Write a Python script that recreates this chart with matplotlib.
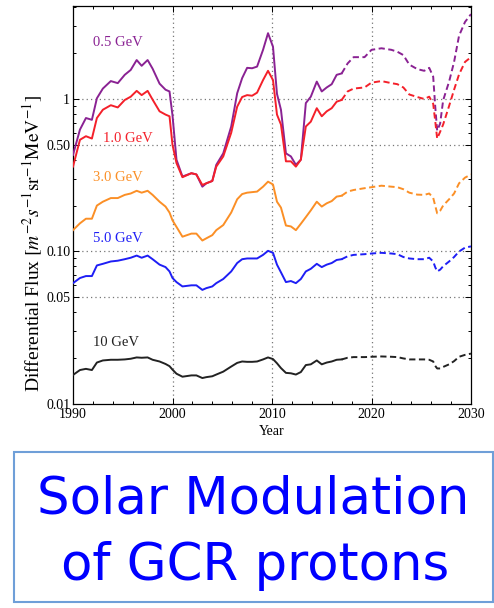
import numpy as np
import matplotlib
matplotlib.use("Agg")
import matplotlib.pyplot as plt
from matplotlib.patches import Rectangle
from matplotlib.ticker import FixedLocator, FixedFormatter, NullFormatter

# =========================
# DATEN
# =========================
jahre = [1990.0, 1990.7, 1991.3, 1991.9, 1992.4, 1993.0, 1993.8, 1994.5, 1995.2, 1995.8,
         1996.4, 1996.9, 1997.5, 1998.0, 1998.7, 1999.3, 1999.7,
         2000.0, 2000.4, 2001.0, 2001.9, 2002.4, 2003.0, 2003.4, 2004.0, 2004.4, 2005.1,
         2005.9, 2006.5, 2007.0, 2007.5, 2008.0, 2008.5, 2009.1, 2009.6,
         2010.1, 2010.5, 2010.9, 2011.4, 2011.9, 2012.4, 2012.9, 2013.4, 2013.9, 2014.5,
         2015.0, 2015.5, 2016.0, 2016.5, 2017.0,
         2017.6, 2018.2, 2019.3, 2020.0, 2021.0, 2022.0, 2022.6, 2023.2, 2023.8, 2024.6,
         2025.3, 2025.8, 2026.2, 2026.4, 2026.6, 2026.9, 2027.2, 2027.8, 2028.3, 2028.8,
         2029.4, 2030.0]

jahr_prognose = 2017.0   # ab hier gestrichelt

flux_05 = [0.43, 0.63, 0.75, 0.73, 1.01, 1.17, 1.31, 1.27, 1.44, 1.55,
           1.8, 1.65, 1.8, 1.58, 1.26, 1.15, 1.12,
           0.78, 0.40, 0.31, 0.326, 0.32, 0.266, 0.28, 0.29, 0.37, 0.44,
           0.66, 1.09, 1.37, 1.6, 1.59, 1.63, 2.1, 2.7,
           2.2, 1.08, 0.85, 0.44, 0.42, 0.37, 0.40, 0.94, 1.035, 1.3,
           1.12, 1.19, 1.25, 1.44, 1.47,
           1.71, 1.88, 1.88, 2.1, 2.15, 2.1, 2.04, 1.94, 1.68, 1.57,
           1.53, 1.6, 1.4, 0.9, 0.62, 0.69, 0.98, 1.3, 1.75, 2.6,
           3.2, 3.6]

flux_10 = [0.36, 0.54, 0.57, 0.55, 0.75, 0.85, 0.91, 0.88, 0.985, 1.035,
           1.13, 1.06, 1.13, 0.99, 0.83, 0.79, 0.77,
           0.50, 0.38, 0.307, 0.326, 0.32, 0.273, 0.28, 0.29, 0.36, 0.42,
           0.6, 0.89, 1.03, 1.06, 1.05, 1.1, 1.33, 1.53,
           1.33, 0.79, 0.68, 0.39, 0.39, 0.36, 0.40, 0.66, 0.71, 0.87,
           0.77, 0.83, 0.87, 0.96, 0.985,
           1.12, 1.17, 1.19, 1.28, 1.31, 1.27, 1.25, 1.19, 1.07, 1.03,
           1.0, 1.035, 0.93, 0.72, 0.55, 0.61, 0.68, 0.9, 1.15, 1.45,
           1.75, 1.88]

flux_30 = [0.138, 0.153, 0.164, 0.164, 0.2, 0.212, 0.224, 0.224, 0.235, 0.24,
           0.25, 0.243, 0.25, 0.235, 0.212, 0.197, 0.18,
           0.16, 0.145, 0.125, 0.131, 0.131, 0.118, 0.122, 0.128, 0.138, 0.149,
           0.18, 0.22, 0.238, 0.243, 0.245, 0.247, 0.266, 0.287,
           0.275, 0.212, 0.194, 0.148, 0.146, 0.138, 0.152, 0.168, 0.186, 0.212,
           0.197, 0.207, 0.214, 0.229, 0.232,
           0.247, 0.253, 0.26, 0.264, 0.27, 0.266, 0.264, 0.256, 0.243, 0.236,
           0.235, 0.24, 0.225, 0.2, 0.178, 0.185, 0.2, 0.22, 0.24, 0.28,
           0.305, 0.32]

flux_50 = [0.062, 0.067, 0.069, 0.069, 0.081, 0.083, 0.086, 0.087, 0.089, 0.091,
           0.094, 0.091, 0.094, 0.089, 0.082, 0.079, 0.074,
           0.067, 0.063, 0.059, 0.06, 0.06, 0.056, 0.0575, 0.059, 0.062, 0.066,
           0.074, 0.084, 0.089, 0.09, 0.09, 0.09, 0.095, 0.101,
           0.098, 0.082, 0.073, 0.063, 0.064, 0.062, 0.066, 0.074, 0.077, 0.083,
           0.079, 0.082, 0.084, 0.088, 0.089,
           0.093, 0.095, 0.096, 0.097, 0.098, 0.097, 0.096, 0.092, 0.09, 0.089,
           0.089, 0.091, 0.086, 0.079, 0.074, 0.076, 0.08, 0.086, 0.092, 0.1,
           0.106, 0.108]

flux_100 = [0.0155, 0.0167, 0.017, 0.0167, 0.0187, 0.0193, 0.0195, 0.0195, 0.0196, 0.0198,
            0.0202, 0.0201, 0.0202, 0.0195, 0.019, 0.0183, 0.0177,
            0.0168, 0.0158, 0.0151, 0.0154, 0.0154, 0.0148, 0.0150, 0.0152, 0.0156, 0.0163,
            0.0176, 0.0186, 0.019, 0.0189, 0.0189, 0.019, 0.0196, 0.0202,
            0.0197, 0.0185, 0.0172, 0.016, 0.0159, 0.0156, 0.0162, 0.018, 0.0182, 0.0193,
            0.0182, 0.0187, 0.019, 0.0195, 0.0196,
            0.0201, 0.0203, 0.0203, 0.0204, 0.0205, 0.0204, 0.0203, 0.0199, 0.0196, 0.0196,
            0.0196, 0.0195, 0.0190, 0.0178, 0.0171, 0.0171, 0.0175, 0.0182, 0.0191, 0.0204,
            0.0210, 0.0214]

energien = ["0.5 GeV", "1.0 GeV", "3.0 GeV", "5.0 GeV", "10 GeV"]
farben = ["#8a2293", "#f4202a", "#fb8f26", "#1e1ef5", "#222222"]
label_pos = [(1992.0, 2.34), (1993.05, 0.552), (1992.0, 0.307), (1992.0, 0.121), (1992.05, 0.0252)]

y_ticks = [0.01, 0.05, 0.10, 0.50, 1]
y_ticklabels = ["0.01", "0.05", "0.10", "0.50", "1"]

# =========================
# PLOT
# =========================
plt.rcParams["font.family"] = ["Liberation Serif", "DejaVu Serif"]
plt.rcParams["mathtext.fontset"] = "stix"

fig = plt.figure(figsize=(4.94, 6.08), dpi=100)
ax = fig.add_axes([73 / 494, 1 - 404 / 608, (471 - 73) / 494, (404 - 6) / 608])

jahre_arr = np.array(jahre)
beob = jahre_arr <= jahr_prognose
prog = jahre_arr >= jahr_prognose

alle_flux = [flux_05, flux_10, flux_30, flux_50, flux_100]
for flux, farbe, name, pos in zip(alle_flux, farben, energien, label_pos):
    flux = np.array(flux)
    ax.plot(jahre_arr[beob], flux[beob], '-', color=farbe, lw=1.4, zorder=3)
    ax.plot(jahre_arr[prog], flux[prog], color=farbe, lw=1.4, ls=(0, (3.2, 1.8)), zorder=3)
    ax.text(pos[0], pos[1], name, color=farbe, fontsize=10.5, ha="left", va="center")

ax.set_yscale("log")
ax.set_xlim(1990, 2030)
ax.set_ylim(0.01, 4.07)

# Gitterlinien (gepunktet)
for x in [2000, 2010, 2020]:
    ax.axvline(x, color="#777777", lw=0.9, ls=(0, (1, 2.5)), zorder=1)
for y in [0.05, 0.10, 0.50, 1]:
    ax.axhline(y, color="#777777", lw=0.9, ls=(0, (1, 2.5)), zorder=1)

ax.xaxis.set_major_locator(FixedLocator([1990, 2000, 2010, 2020, 2030]))
ax.xaxis.set_minor_locator(FixedLocator(np.arange(1990, 2031, 2)))
ax.yaxis.set_major_locator(FixedLocator(y_ticks))
ax.yaxis.set_major_formatter(FixedFormatter(y_ticklabels))
ax.yaxis.set_minor_formatter(NullFormatter())

ax.tick_params(which="both", direction="in", top=True, right=True, labelsize=10, width=0.7)
ax.tick_params(which="major", length=4.5, pad=2)
ax.tick_params(which="minor", length=2.5)
ax.tick_params(axis="x", which="major", pad=3)
for s in ax.spines.values():
    s.set_linewidth(0.9)

ax.set_xlabel("Year", fontsize=10, labelpad=3)
fig.text(33 / 494, 1 - 244 / 608,
         r"Differential Flux $[m^{-2}s^{-1}\mathrm{sr}^{-1}\mathrm{MeV}^{-1}]$",
         fontsize=14, rotation=90, ha="center", va="center")

# =========================
# TEXTBOX UNTEN
# =========================
fig.patches.append(Rectangle((14 / 494, 0.0099), (493 - 14) / 494, 0.2467,
                             transform=fig.transFigure, fill=False,
                             edgecolor="#6f9fd8", lw=1.5))
fig.text(0.512, 1 - 513 / 608, "Solar Modulation", color="#0000ff", fontsize=37,
         family="DejaVu Sans", ha="center", va="baseline")
fig.text(0.516, 1 - 580 / 608, "of GCR protons", color="#0000ff", fontsize=37,
         family="DejaVu Sans", ha="center", va="baseline")

plt.savefig("out.png", dpi=100)
plt.close()
